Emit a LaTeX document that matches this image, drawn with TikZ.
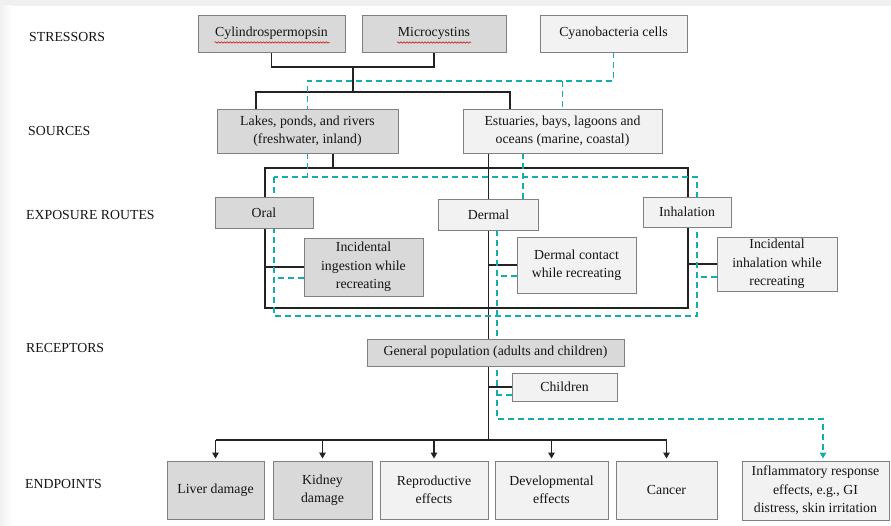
\documentclass[tikz,border=0pt]{standalone}
\usepackage{fontspec}
\setmainfont{Liberation Serif}
\newfontfamily\tms{Liberation Serif}
\usetikzlibrary{arrows.meta,decorations.pathmorphing}
\definecolor{dfill}{RGB}{217,217,217}
\definecolor{lfill}{RGB}{242,242,242}
\definecolor{bord}{RGB}{128,128,128}
\definecolor{lin}{RGB}{35,35,35}
\definecolor{teal2}{RGB}{20,172,172}
\definecolor{txt}{RGB}{20,20,20}
\definecolor{band}{RGB}{240,240,240}
\pgfdeclarelayer{bg}\pgfsetlayers{bg,main}
\tikzset{
 bx/.style={draw=bord, line width=0.9pt, inner sep=0pt, align=center, text=txt, font=\tms\fontsize{13.8}{18.5}\selectfont},
 dk/.style={bx, fill=dfill},
 lt/.style={bx, fill=lfill},
 sz/.style 2 args={minimum width=#1pt, minimum height=#2pt},
 lab/.style={anchor=west, inner sep=0pt, text=txt, font=\tms\fontsize{13.8}{16}\selectfont},
 bl/.style={draw=lin, line width=1.2pt},
 cy/.style={draw=teal2, line width=1.2pt, dash pattern=on 6pt off 4pt},
 arr/.style={bl, -{Triangle[length=6pt,width=6.5pt]}},
 wavy/.style={draw=red!80!black, line width=0.5pt, decorate, decoration={snake, amplitude=0.7pt, segment length=3pt}}
}
\begin{document}
\begin{tikzpicture}[x=1pt,y=-1pt]
\useasboundingbox (0,0) rectangle (891,526);
% section labels
\node[lab] (l1) at (29,37) {STRESSORS};
\node[lab] (l2) at (28,131) {SOURCES};
\node[lab] (l3) at (26,215) {EXPOSURE ROUTES};
\node[lab] (l4) at (26,348) {RECEPTORS};
\node[lab] (l5) at (25,484) {ENDPOINTS};
% stressors
\node[dk, sz={147}{37}] (cyl) at (271.5,33.5) {Cylindrospermopsin};
\node[dk, sz={144}{37}] (mic) at (434,33.5) {Microcystins};
\node[lt, sz={147}{37}] (cya) at (613.5,33.5) {Cyanobacteria cells};
% sources
\node[dk, sz={181}{44}] (lakes) at (307.5,131) {Lakes, ponds, and rivers\\(freshwater, inland)};
\node[lt, sz={199}{44}] (est) at (562.5,131) {Estuaries, bays, lagoons and\\oceans (marine, coastal)};
% exposure routes
\node[dk, sz={98}{31}] (oral) at (264,212.5) {Oral};
\node[lt, sz={100}{31}] (dermal) at (488.5,214.5) {Dermal};
\node[lt, sz={88}{30}] (inhal) at (687,212) {Inhalation};
\node[dk, sz={119}{58}] (ing) at (363.5,267) {Incidental\\ingestion while\\recreating};
\node[lt, sz={119}{56}] (dcon) at (576.5,265) {Dermal contact\\while recreating};
\node[lt, sz={120}{54}] (iinh) at (777,264) {Incidental\\inhalation while\\recreating};
% receptors
\node[dk, sz={257}{27}] (gen) at (495.5,352.5) {General population (adults and children)};
\node[lt, sz={105}{28}] (chi) at (564.5,387) {Children};
% endpoints
\node[dk, sz={97}{58}] (liver) at (215.5,490) {Liver damage};
\node[dk, sz={99}{58}] (kid) at (322.5,490) {Kidney\\damage};
\node[lt, sz={108}{58}] (rep) at (434,490) {Reproductive\\effects};
\node[lt, sz={113}{58}] (dev) at (551.5,490) {Developmental\\effects};
\node[lt, sz={101}{58}] (can) at (666.5,490) {Cancer};
\node[lt, sz={147}{59}] (inf) at (815.5,490.5) {Inflammatory response\\effects, e.g., GI\\distress, skin irritation};
% spell-check underlines
\draw[wavy] ([xshift=-57pt,yshift=-9pt]cyl.center) -- ++(115,0);
\draw[wavy] ([xshift=-37pt,yshift=-9pt]mic.center) -- ++(74,0);

\begin{pgfonlayer}{bg}
\fill[white] (0,0) rectangle (891,526);
\fill[band] (0,0) rectangle (891,6);
\shade[left color=band, right color=white] (0,6) rectangle (12,526);
% junction coordinates
\coordinate (sj) at (353,67);
\coordinate (sh) at (353,92);
\coordinate (ch) at (0,81);
\coordinate (ftl) at (265,168);
\coordinate (fbr) at (688,308);
\coordinate (dtl) at (274,177);
\coordinate (dbr) at (697,316);
\coordinate (eh) at (488,440);
\coordinate (cv) at (497,419);
\coordinate (infa) at ([xshift=7.5pt]inf.north);
% black connectors
\draw[bl] (cyl.south) |- (sj) -| (mic.south);
\draw[bl] (sj) -- (sh);
\draw[bl] (lakes.north -| 256,0) |- (sh) -| (est.north -| 510,0);
\draw[bl] (ftl) rectangle (fbr);
\draw[bl] (lakes.south -| 333,0) -- (ftl -| 333,0);
\draw[bl] (est.south -| dermal.north) -- (dermal.north);
\draw[bl] (dermal.south) -- (dermal.south |- gen.north);
\draw[bl] (ing.west) -- (ing.west -| ftl);
\draw[bl] (dcon.west) -- (dcon.west -| dermal.south);
\draw[bl] (iinh.west) -- (iinh.west -| fbr);
\draw[bl] (dermal.south |- gen.south) -- (dermal.south |- eh);
\draw[bl] (chi.west) -- (chi.west -| dermal.south);
\draw[bl] (liver.north |- eh) -- (can.north |- eh);
\foreach \n in {liver,kid,rep,dev,can}
  \draw[arr] (\n.north |- eh) -- ([yshift=2pt]\n.north);
% teal dashed connectors
\draw[cy] (cya.south) |- (lakes.north |- ch) -- (lakes.north);
\draw[cy] (est.north |- ch) -- (est.north);
\draw[cy] (lakes.south) -- (lakes.south |- dtl);
\draw[cy] (est.south -| 523,0) -- (dermal.north -| 523,0);
\draw[cy] (dtl) rectangle (dbr);
\draw[cy] ([yshift=-11pt]ing.west) -- ([yshift=-11pt]ing.west -| dtl);
\draw[cy] ([yshift=-11pt]dcon.west) -- ([yshift=-11pt]dcon.west -| cv);
\draw[cy] ([yshift=-13pt]iinh.west) -- ([yshift=-13pt]iinh.west -| dbr);
\draw[cy] ([yshift=-8pt]chi.west) -- ([yshift=-8pt]chi.west -| cv);
\draw[cy, -{Triangle[length=6pt,width=6.5pt,fill=teal2]}] (dermal.south -| cv) |- (infa |- cv) -- ([yshift=2pt]infa);
\end{pgfonlayer}
\end{tikzpicture}
\end{document}
